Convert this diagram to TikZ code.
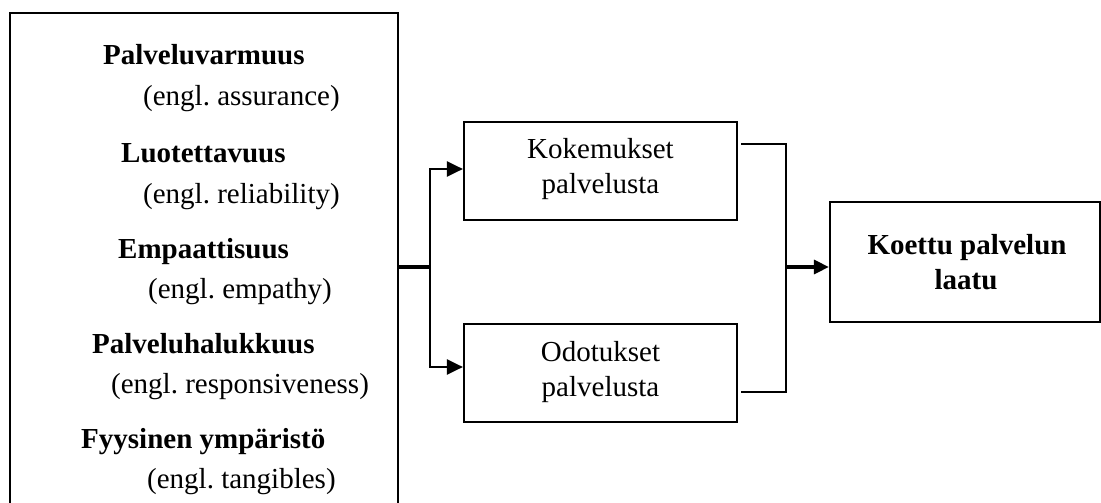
\documentclass[tikz,border=0pt]{standalone}
\usepackage{fontspec}
\setmainfont{Liberation Serif}
\usetikzlibrary{arrows.meta}
\frenchspacing

\tikzset{
  box/.style={draw, line width=2.2pt, rectangle, inner sep=0pt},
  txt/.style={inner sep=0pt, font=\fontsize{29}{35}\selectfont},
  btxt/.style={txt, font=\fontsize{29}{35}\selectfont\bfseries},
  conn/.style={line width=2.2pt},
  heavy/.style={line width=3.2pt},
  arrowline/.style={line width=2.2pt, -{Triangle[length=16pt,width=15pt]}},
  heavyarrow/.style={line width=3.2pt, -{Triangle[length=15pt,width=14pt]}}
}

\begin{document}
\begin{tikzpicture}[x=1pt,y=-1pt]
  \useasboundingbox (0,0) rectangle (1101,503);
  \clip (0,0) rectangle (1101,503);
  \fill[white] (0,0) rectangle (1101,503);

  % dimensions of service quality
  \node[box, anchor=north west, minimum width=388pt, minimum height=520pt] (dims) at (9,12) {};
  \node[btxt, anchor=base west] (d1) at (103,65)  {Palveluvarmuus};
  \node[txt,  anchor=base west] (e1) at (143,106) {(engl. assurance)};
  \node[btxt, anchor=base west] (d2) at (121,162) {Luotettavuus};
  \node[txt,  anchor=base west] (e2) at (143,203) {(engl. reliability)};
  \node[btxt, anchor=base west] (d3) at (118,258) {Empaattisuus};
  \node[txt,  anchor=base west] (e3) at (148,298) {(engl. empathy)};
  \node[btxt, anchor=base west] (d4) at (92,353)  {Palveluhalukkuus};
  \node[txt,  anchor=base west] (e4) at (111,393) {(engl. responsiveness)};
  \node[btxt, anchor=base west] (d5) at (81,448)  {Fyysinen ympäristö};
  \node[txt,  anchor=base west] (e5) at (147,488) {(engl. tangibles)};

  % experiences and expectations
  \node[box, minimum width=273pt, minimum height=98pt] (kok) at (600.5,171) {};
  \node[txt, anchor=base] (kok1) at (600.5,158) {Kokemukset};
  \node[txt, anchor=base] (kok2) at (600.5,193) {palvelusta};

  \node[box, minimum width=273pt, minimum height=98pt] (odo) at (600.5,373) {};
  \node[txt, anchor=base] (odo1) at (600.5,361) {Odotukset};
  \node[txt, anchor=base] (odo2) at (600.5,396) {palvelusta};

  % perceived quality
  \node[box, minimum width=270pt, minimum height=120pt] (res) at (965,262) {};
  \node[btxt, anchor=base] (res1) at (967,254) {Koettu palvelun};
  \node[btxt, anchor=base] (res2) at (966,289) {laatu};

  % connectors
  \coordinate (split) at (430,267);
  \coordinate (join) at (786,267);
  \coordinate (kout) at ([xshift=3pt,yshift=27pt]kok.east);
  \coordinate (oout) at ([xshift=3pt,yshift=-19pt]odo.east);

  \draw[heavy] (dims.east |- split) -- (split);
  \draw[arrowline] (split) |- ([yshift=2pt]kok.west);
  \draw[arrowline] (split) |- ([yshift=6pt]odo.west);
  \draw[conn] (kout) -| (join) |- (oout);
  \draw[heavyarrow] (join) -- (res.west |- join);
\end{tikzpicture}
\end{document}
